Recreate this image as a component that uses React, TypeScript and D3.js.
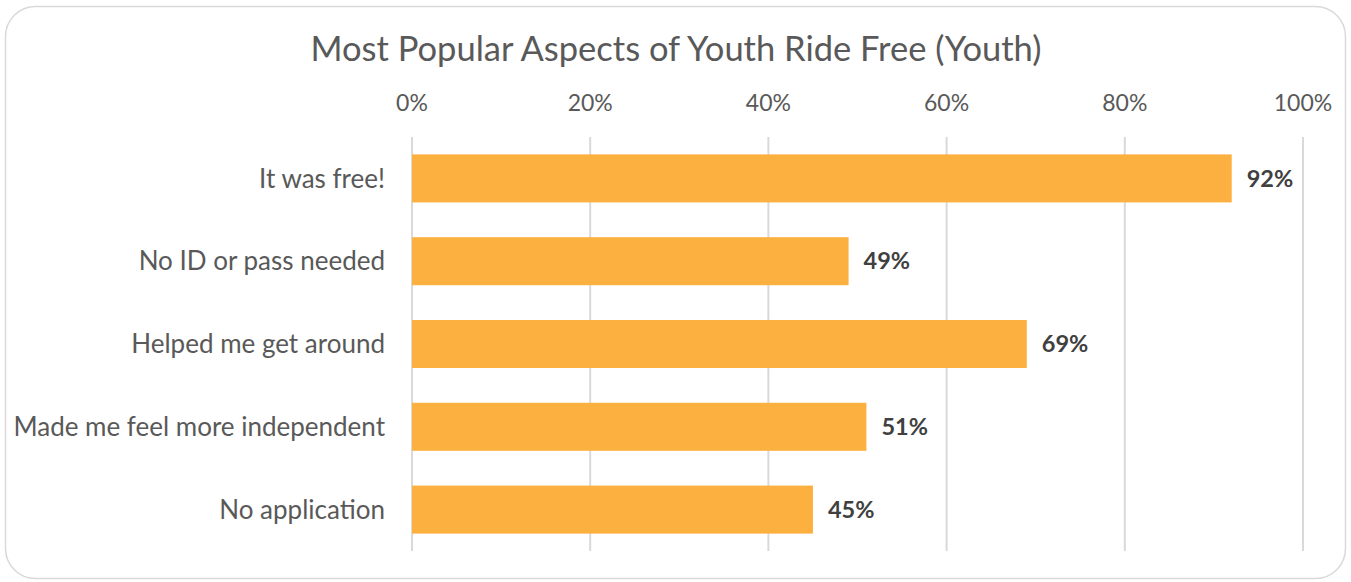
import { useEffect, useRef } from 'react';
import * as d3 from 'd3';

const categories = [
  'It was free!',
  'No ID or pass needed',
  'Helped me get around',
  'Made me feel more independent',
  'No application',
];
const values = [0.92, 0.49, 0.69, 0.51, 0.45];
const ticks = [0, 0.2, 0.4, 0.6, 0.8, 1];
const title = 'Most Popular Aspects of Youth Ride Free (Youth)';

const W = 1351;
const H = 582;
const FONT = 'Lato, "Open Sans", sans-serif';

export default function App() {
  const svgRef = useRef<SVGSVGElement>(null);

  useEffect(() => {
    if (!svgRef.current) return;
    const svg = d3.select(svgRef.current);
    svg.selectAll('*').remove();

    svg
      .append('rect')
      .attr('x', 5.5)
      .attr('y', 6.5)
      .attr('width', W - 11)
      .attr('height', H - 10)
      .attr('rx', 30)
      .attr('fill', '#fff')
      .attr('stroke', '#d9d9d9')
      .attr('stroke-width', 1.5);

    svg
      .append('text')
      .attr('x', 676)
      .attr('y', 61)
      .attr('text-anchor', 'middle')
      .attr('font-family', FONT)
      .attr('font-size', 34.5)
      .attr('fill', '#595959')
      .text(title);

    const x = d3.scaleLinear().domain([0, 1]).range([412, 1303]);
    const y = d3.scaleBand().domain(categories).range([137, 551]).paddingInner(0.42).paddingOuter(0.21);

    const g = svg.append('g');

    g.selectAll('line.grid')
      .data(ticks)
      .join('line')
      .attr('x1', (d) => x(d))
      .attr('x2', (d) => x(d))
      .attr('y1', 137)
      .attr('y2', 551)
      .attr('stroke', '#d9d9d9')
      .attr('stroke-width', 2);

    g.selectAll('text.tick')
      .data(ticks)
      .join('text')
      .attr('x', (d) => x(d))
      .attr('y', 111)
      .attr('text-anchor', 'middle')
      .attr('font-family', FONT)
      .attr('font-size', 23)
      .attr('fill', '#595959')
      .text((d) => d3.format('.0%')(d));

    g.selectAll('rect.bar')
      .data(values)
      .join('rect')
      .attr('x', x(0))
      .attr('y', (_, i) => y(categories[i]) as number)
      .attr('width', (d) => x(d) - x(0))
      .attr('height', y.bandwidth())
      .attr('fill', '#fbb040');

    g.selectAll('text.cat')
      .data(categories)
      .join('text')
      .attr('x', 385)
      .attr('y', (d) => (y(d) as number) + y.bandwidth() / 2)
      .attr('dy', '0.35em')
      .attr('text-anchor', 'end')
      .attr('font-family', FONT)
      .attr('font-size', 26)
      .attr('fill', '#595959')
      .text((d) => d);

    g.selectAll('text.val')
      .data(values)
      .join('text')
      .attr('x', (d) => x(d) + 15)
      .attr('y', (_, i) => (y(categories[i]) as number) + y.bandwidth() / 2)
      .attr('dy', '0.35em')
      .attr('font-family', FONT)
      .attr('font-size', 23.5)
      .attr('font-weight', 'bold')
      .attr('fill', '#404040')
      .text((d) => d3.format('.0%')(d));
  }, []);

  return (
    <svg
      ref={svgRef}
      width={W}
      height={H}
      style={{ position: 'absolute', left: 0, top: 0, display: 'block' }}
    />
  );
}
